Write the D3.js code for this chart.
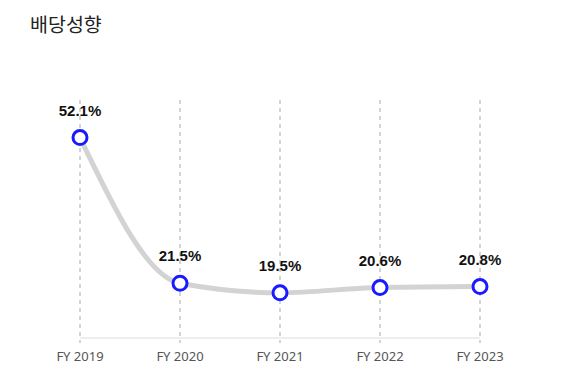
<!DOCTYPE html>
<html>
<head>
<meta charset="UTF-8">
<title>배당성향</title>
<style>
    body { margin: 0; background: #fff; }
    .title { font: 19.5px "Noto Sans CJK KR", sans-serif; fill: #222; }
    .val { font: bold 15px "Liberation Sans", Arial, sans-serif; fill: #111; text-anchor: middle; }
    .tick-label { font: 13px "Noto Sans", sans-serif; fill: #555; text-anchor: middle; }
</style>
<script src="https://d3js.org/d3.v7.min.js"></script>
</head>
<body>
<div id="chart"></div>
<script>
    const years = ["FY 2019", "FY 2020", "FY 2021", "FY 2022", "FY 2023"];
    const payout = [52.1, 21.5, 19.5, 20.6, 20.8];

    const width = 569, height = 387;
    const svg = d3.select("#chart").append("svg")
        .attr("width", width)
        .attr("height", height);

    svg.append("text")
        .attr("class", "title")
        .attr("x", 30)
        .attr("y", 32)
        .text("배당성향");

    const x = d3.scalePoint()
        .domain(years)
        .range([80, 480]);

    const y = d3.scaleLinear()
        .domain([10, 60])
        .range([338, 100]);

    // dashed verticals
    svg.selectAll(".grid")
        .data(years)
        .enter().append("line")
        .attr("x1", d => x(d)).attr("x2", d => x(d))
        .attr("y1", y(60)).attr("y2", 343)
        .attr("stroke", "#c4c8cc")
        .attr("stroke-width", 1.5)
        .attr("stroke-dasharray", "4,4");

    // baseline
    svg.append("line")
        .attr("x1", x(years[0])).attr("x2", x(years[years.length - 1]))
        .attr("y1", y(10)).attr("y2", y(10))
        .attr("stroke", "#e8e8e8")
        .attr("stroke-width", 1.5);

    svg.selectAll(".tick-label")
        .data(years)
        .enter().append("text")
        .attr("class", "tick-label")
        .attr("x", d => x(d))
        .attr("y", 361)
        .text(d => d);

    const data = years.map((d, i) => ({year: d, v: payout[i]}));

    const line = d3.line()
        .x(d => x(d.year))
        .y(d => y(d.v))
        .curve(d3.curveMonotoneX);

    svg.append("path")
        .datum(data)
        .attr("d", line)
        .attr("fill", "none")
        .attr("stroke", "#d3d3d3")
        .attr("stroke-width", 5);

    svg.selectAll(".pt")
        .data(data)
        .enter().append("circle")
        .attr("cx", d => x(d.year))
        .attr("cy", d => y(d.v))
        .attr("r", 7)
        .attr("fill", "#fff")
        .attr("stroke", "#1a1aff")
        .attr("stroke-width", 3);

    svg.selectAll(".val")
        .data(data)
        .enter().append("text")
        .attr("class", "val")
        .attr("x", d => x(d.year))
        .attr("y", d => y(d.v) - 22)
        .text(d => d.v.toFixed(1) + "%");
</script>
</body>
</html>
